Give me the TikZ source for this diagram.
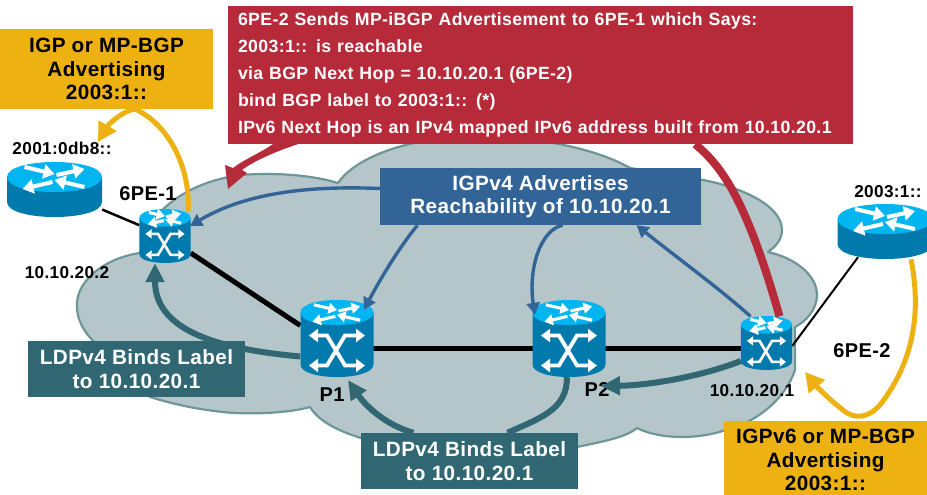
\documentclass[tikz,border=0pt]{standalone}
\usepackage{fontspec}
\setmainfont{Liberation Sans}[LetterSpace=2]
\usetikzlibrary{arrows.meta}
\definecolor{yel}{HTML}{EDB111}
\definecolor{rd}{HTML}{B72A3A}
\definecolor{blu}{HTML}{336498}
\definecolor{tea}{HTML}{306773}
\definecolor{cloudf}{HTML}{B5C6CA}
\definecolor{cloude}{HTML}{6F9697}
\definecolor{wall}{HTML}{0079AC}
\definecolor{lid}{HTML}{00B5F0}
\tikzset{
  box/.style={rectangle,inner sep=0pt,align=center,font=\bfseries\fontsize{20.7}{23.5}\selectfont},
  ybox/.style={box,fill=yel,text=black},
  tbox/.style={box,fill=tea,text=white},
  bbox/.style={box,fill=blu,text=white},
  lbl/.style={inner sep=0pt,font=\bfseries\fontsize{17.2}{20}\selectfont},
  lblbig/.style={inner sep=0pt,font=\bfseries\fontsize{20}{24}\selectfont},
  slot/.style={rectangle,inner sep=0pt},
  yarrow/.style={yel,line width=5pt,-{Triangle[length=19pt,width=20pt]}},
  tarrow/.style={tea,line width=6pt,-{Triangle[length=19pt,width=18pt]}},
  tline/.style={tea,line width=6pt},
  barrow/.style={blu,line width=3.4pt,-{Triangle[length=12pt,width=13pt]}},
  bline/.style={blu,line width=3.4pt},
}
\newcommand{\lidarrows}[1]{%
  \begin{scope}[scale=#1,white,line width=#1*4pt]
    \pgfmathsetmacro{\tips}{#1}
    \draw[-{Triangle[length=11pt,width=14pt,scale=\tips]}] (-30,-10) -- (0,-3);
    \draw[-{Triangle[length=11pt,width=14pt,scale=\tips]}] (2,-2) -- (30,-8);
    \draw[-{Triangle[length=11pt,width=14pt,scale=\tips]}] (-2,5) -- (-32,12);
    \draw[-{Triangle[length=11pt,width=14pt,scale=\tips]}] (30,10) -- (0,3);
  \end{scope}}
\newcommand{\switchicon}[2]{%
  \begin{scope}[shift={(#1)},scale=#2]
    \fill[wall] (-36.5,-26) -- (-36.5,26) .. controls (-36.5,42.7) and (36.5,42.7) .. (36.5,26) -- (36.5,-26) -- cycle;
    \fill[lid] (-36.5,-26) .. controls (-36.5,-42.7) and (36.5,-42.7) .. (36.5,-26) .. controls (36.5,-9.3) and (-36.5,-9.3) .. (-36.5,-26) -- cycle;
    \begin{scope}[shift={(0,-26)}]\lidarrows{0.77}\end{scope}
    \pgfmathsetmacro{\tips}{#2}
    \draw[white,line width=#2*3.8pt,line join=miter,{Triangle[length=9pt,width=13pt,scale=\tips]}-{Triangle[length=9pt,width=13pt,scale=\tips]}] (-28,-3) -- (-10,-3) -- (8,27) -- (28,27);
    \draw[white,line width=#2*3.8pt,line join=miter,{Triangle[length=9pt,width=13pt,scale=\tips]}-{Triangle[length=9pt,width=13pt,scale=\tips]}] (28,-3) -- (8,-3) -- (-10,27) -- (-28,27);
  \end{scope}}
\newcommand{\routericon}[1]{%
  \begin{scope}[shift={(#1)}]
    \fill[wall] (-47.5,-12.5) -- (-47.5,12.5) .. controls (-47.5,32.5) and (47.5,32.5) .. (47.5,12.5) -- (47.5,-12.5) -- cycle;
    \fill[lid] (-47.5,-12.5) .. controls (-47.5,-32.5) and (47.5,-32.5) .. (47.5,-12.5) .. controls (47.5,7.5) and (-47.5,7.5) .. (-47.5,-12.5) -- cycle;
    \begin{scope}[shift={(0,-12.5)}]\lidarrows{1}\end{scope}
  \end{scope}}
\begin{document}
\begin{tikzpicture}[x=1pt,y=-1pt]
\useasboundingbox (0,0) rectangle (927,495);
\clip (0,0) rectangle (927,495);
% cloud
\draw[fill=cloudf,draw=cloude,line width=2.2pt,line join=round]
  (338,183) .. controls (352,162) and (390,146) .. (430,140)
  .. controls (510,130) and (590,145) .. (630,168)
  -- (703,180) .. controls (740,187) and (782,205) .. (782,230)
  .. controls (782,240) and (775,247) .. (768,252)
  .. controls (795,258) and (817,275) .. (817,295)
  .. controls (817,310) and (805,322) .. (795,327)
  -- (795,370) .. controls (785,400) and (755,422) .. (733,427)
  .. controls (710,438) and (665,442) .. (637,428)
  .. controls (625,438) and (600,442) .. (577,447)
  -- (361,438) .. controls (335,430) and (318,420) .. (310,407)
  .. controls (285,414) and (240,415) .. (215,411)
  .. controls (190,408) and (170,403) .. (150,397)
  -- (100,347) .. controls (85,335) and (76,320) .. (77,303)
  .. controls (78,280) and (105,258) .. (140,253)
  -- (150,225) .. controls (170,195) and (205,180) .. (240,175)
  .. controls (280,172) and (315,176) .. (338,183) -- cycle;
% device slots
\node[slot,minimum width=95pt,minimum height=55pt] (rl) at (54.5,189.5) {};
\node[slot,minimum width=95pt,minimum height=55pt] (rr) at (885,231.5) {};
\node[slot,minimum width=51pt,minimum height=54pt] (pe1) at (165,236) {};
\node[slot,minimum width=73pt,minimum height=77pt] (p1) at (337,338.5) {};
\node[slot,minimum width=73pt,minimum height=77pt] (p2) at (569,338.5) {};
\node[slot,minimum width=51pt,minimum height=53pt] (pe2) at (766.5,343) {};
% links
\draw[black,line width=2.5pt] (rl) -- (pe1);
\draw[black,line width=5pt] (pe1) -- ([yshift=13pt]p1.west);
\draw[black,line width=5pt] ([yshift=-9.5pt]p1.center) -- ([yshift=-9.5pt]p2.center);
\draw[black,line width=5pt] ([yshift=-9.5pt]p2.center) -- ([yshift=-5pt]pe2.center);
\draw[black,line width=2pt] ([yshift=-3pt]pe2.east) -- ([xshift=-27pt,yshift=2pt]rr.south);
% icons
\routericon{rl.center}
\routericon{rr.center}
\switchicon{pe1.center}{0.7}
\switchicon{p1.center}{1}
\switchicon{p2.center}{1}
\switchicon{pe2.center}{0.7}
% boxes
\node[ybox,minimum width=213pt,minimum height=80pt] (yl) at (106.5,69) {IGP or MP-BGP\\Advertising\\2003:1::};
\node[ybox,minimum width=203pt,minimum height=78pt] (yr) at (825.5,460) {IGPv6 or MP-BGP\\Advertising\\2003:1::};
\node[bbox,minimum width=321pt,minimum height=57pt] (bb) at (540.5,196.5) {IGPv4 Advertises\\Reachability of 10.10.20.1};
\node[tbox,minimum width=217pt,minimum height=56pt] (tl) at (136.5,369) {LDPv4 Binds Label\\to 10.10.20.1};
\node[tbox,minimum width=217pt,minimum height=56pt] (tb) at (469.5,461) {LDPv4 Binds Label\\to 10.10.20.1};
\node[rectangle,fill=rd,text=white,minimum width=625pt,minimum height=138pt,inner xsep=10pt,inner ysep=0pt,text width=605pt,align=left,font=\bfseries\fontsize{17.7}{27}\selectfont] (rb) at (540.5,75) {6PE-2 Sends MP-iBGP Advertisement to 6PE-1 which Says:\\2003:1:: is reachable\\via BGP Next Hop = 10.10.20.1 (6PE-2)\\bind BGP label to 2003:1::  (*)\\IPv6 Next Hop is an IPv4 mapped IPv6 address built from 10.10.20.1};
% labels
\node[lbl] (l1) at (62,148) {2001:0db8::};
\node[lbl] (l2) at (67,273) {10.10.20.2};
\node[lbl] (l3) at (752,391) {10.10.20.1};
\node[lbl] (l4) at (888,192) {2003:1::};
\node[lblbig] (l5) at (148,194) {6PE-1};
\node[lblbig] (l6) at (862,351) {6PE-2};
\node[lblbig] (l7) at (332,395) {P1};
\node[lblbig] (l8) at (597,390) {P2};
% connectors
\coordinate (yltip) at (98,142);
\coordinate (yrtip) at (805,372);
\draw[yarrow] ([xshift=23pt,yshift=-3pt]pe1.north) .. controls (191,170) and (170,125) .. (135,109) .. controls (122,111) and (108,125) .. (yltip);
\draw[yarrow] ([xshift=26pt]rr.south) .. controls (921,310) and (915,360) .. (880,405) .. controls (868,418) and (855,420) .. (843,410) .. controls (830,400) and (818,388) .. (yrtip);
\draw[rd,line width=8pt] ([xshift=-158pt]rb.south east) .. controls (720,165) and (745,195) .. ([xshift=13pt,yshift=0pt]pe2.north);
\fill[rd] ([xshift=45pt]rb.south west) .. controls (262,152) and (243,160) .. (233,168) -- (225,165) -- (228,189) -- (247,173) -- (242,170) .. controls (255,160) and (280,150) .. ([xshift=70pt]rb.south west) -- cycle;
\draw[barrow] ([yshift=8pt]bb.west) .. controls (320,186) and (250,190) .. ([xshift=25pt,yshift=10pt]pe1.center);
\draw[barrow] ([xshift=-123pt]bb.south) .. controls (405,240) and (385,270) .. ([xshift=27pt,yshift=-10pt]p1.north);
\draw[barrow] ([xshift=22pt]bb.south) .. controls (540,230) and (528,270) .. ([xshift=-34pt,yshift=-15pt]p2.north);
\draw[barrow] ([xshift=-16pt]pe2.north) .. controls (715,285) and (680,260) .. ([xshift=96pt,yshift=0pt]bb.south);
\draw[tarrow] ([yshift=-18pt]p1.west) .. controls (230,350) and (155,335) .. ([xshift=-10pt]pe1.south);
\draw[tarrow] ([yshift=-18pt]pe2.west) .. controls (705,375) and (655,385) .. ([xshift=32pt,yshift=-9pt]p2.south);
\draw[tline] ([xshift=-2pt]p2.south) .. controls (567,410) and (540,418) .. ([xshift=38pt]tb.north);
\draw[tarrow] ([xshift=-56pt]tb.north) .. controls (385,425) and (365,405) .. ([xshift=11pt,yshift=-3pt]p1.south);
\end{tikzpicture}
\end{document}
